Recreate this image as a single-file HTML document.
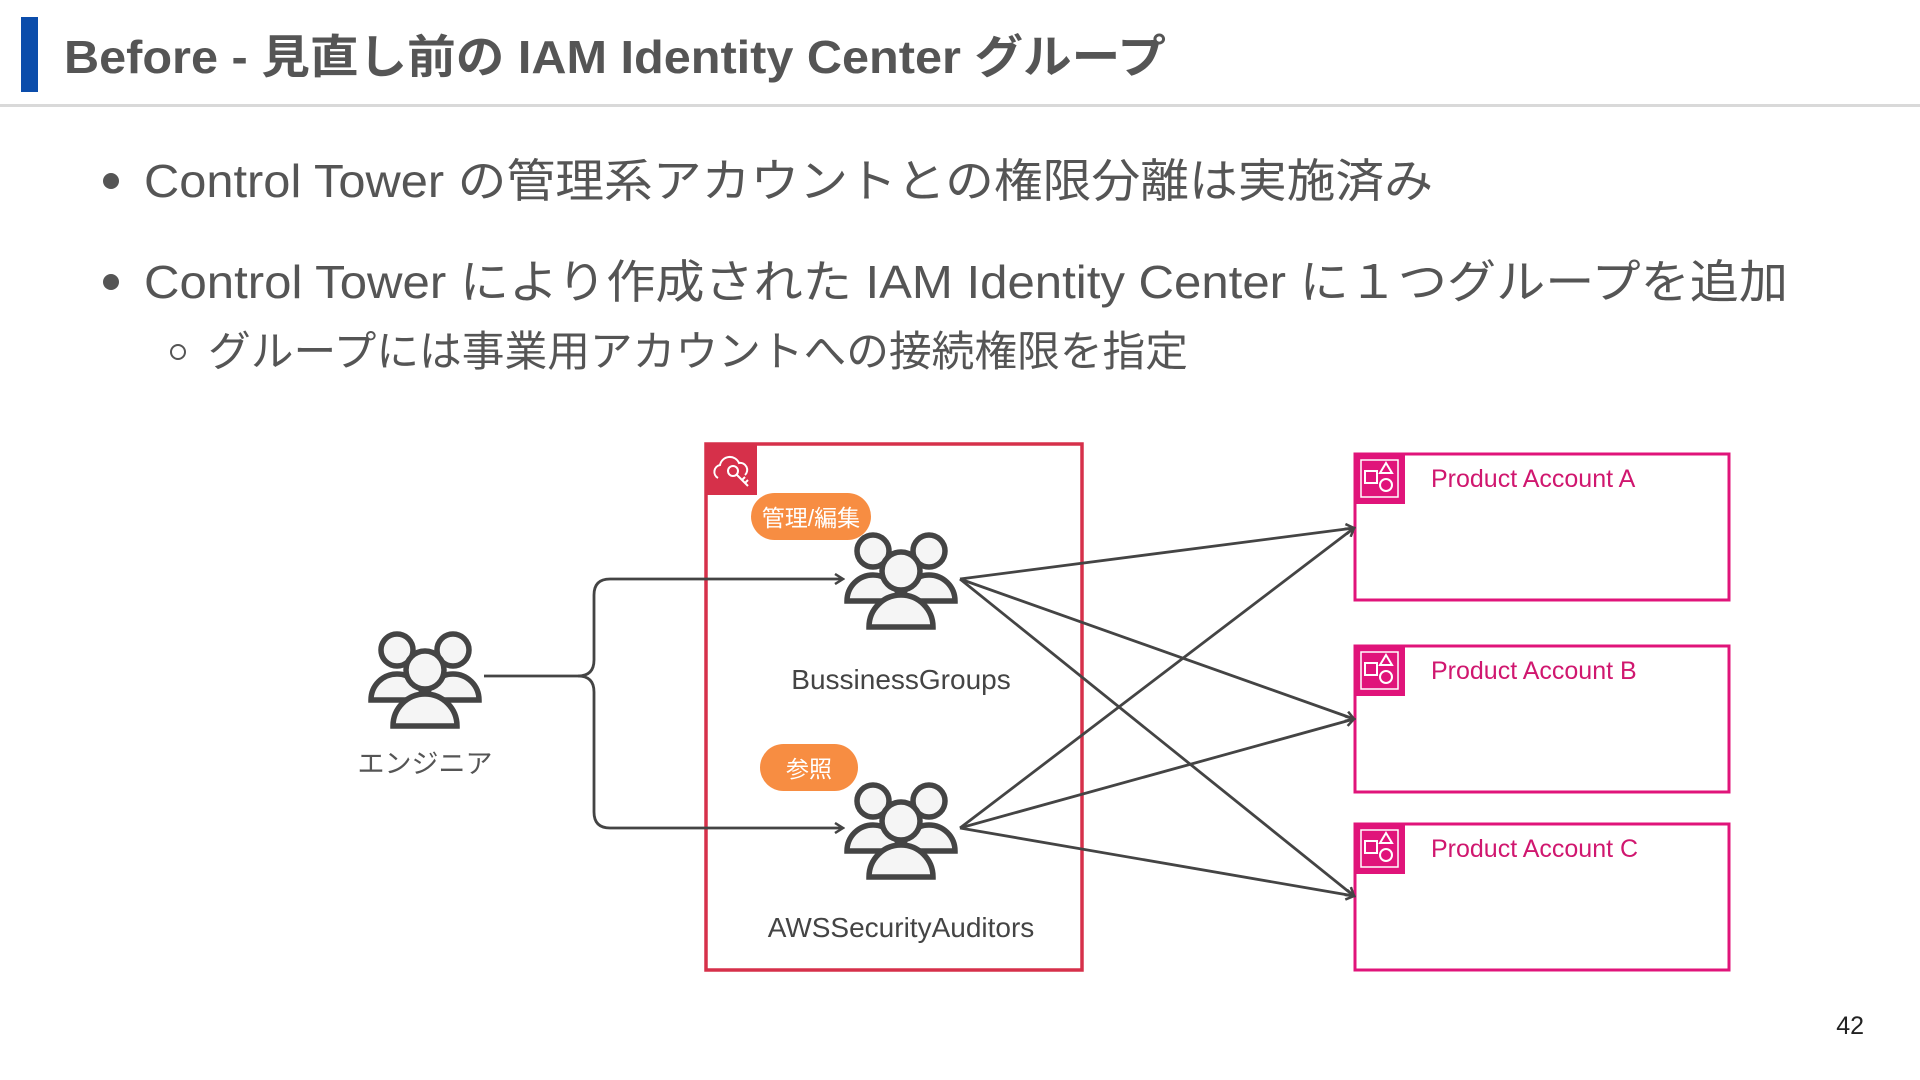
<!DOCTYPE html>
<html><head><meta charset="utf-8"><style>
html,body{margin:0;padding:0;background:#fff;}
svg{display:block;font-family:"Liberation Sans","Noto Sans CJK JP",sans-serif;}
</style></head><body>
<svg width="1920" height="1080" viewBox="0 0 1920 1080" xmlns="http://www.w3.org/2000/svg">
<defs>
<g id="ppl" stroke="#444" stroke-width="5.5" fill="#f5f5f5">
  <path d="M4 72 A26 26 0 0 1 56 72 Z"/>
  <path d="M60 72 A26 26 0 0 1 112 72 Z"/>
  <circle cx="30" cy="22" r="16"/>
  <circle cx="86" cy="22" r="16"/>
  <path d="M26 98 A32 32 0 0 1 90 98 Z"/>
  <circle cx="58" cy="42" r="19"/>
</g>
<marker id="ar" markerWidth="12" markerHeight="12" refX="10" refY="6" orient="auto" markerUnits="userSpaceOnUse">
  <path d="M2 1 L10 6 L2 11" fill="none" stroke="#444" stroke-width="2.5"/>
</marker>
<g id="acct">
  <rect x="0" y="0" width="51" height="51" fill="#e0147a"/>
  <rect x="11" y="18" width="12" height="12" fill="none" stroke="#fff" stroke-width="2"/>
  <path d="M32 10 L38 20 L26 20 Z" fill="none" stroke="#fff" stroke-width="2"/>
  <circle cx="32" cy="32" r="6" fill="none" stroke="#fff" stroke-width="2"/>
  <rect x="7" y="7" width="37" height="37" fill="none" stroke="#fff" stroke-width="1.5"/>
</g>
</defs>
<!-- header -->
<rect x="21" y="17" width="17" height="75" fill="#0b4dab"/>
<text x="64" y="73" font-size="46" font-weight="bold" fill="#555" textLength="1102" lengthAdjust="spacingAndGlyphs">Before - 見直し前の IAM Identity Center グループ</text>
<rect x="0" y="104" width="1920" height="3" fill="#d9d9d9"/>
<!-- bullets -->
<circle cx="111" cy="181" r="8" fill="#555"/>
<text x="144" y="197" font-size="46" fill="#555" textLength="1289" lengthAdjust="spacingAndGlyphs">Control Tower の管理系アカウントとの権限分離は実施済み</text>
<circle cx="111" cy="282" r="8" fill="#555"/>
<text x="144" y="298" font-size="46" fill="#555" textLength="1644" lengthAdjust="spacingAndGlyphs">Control Tower により作成された IAM Identity Center に１つグループを追加</text>
<circle cx="178" cy="352" r="7" fill="none" stroke="#555" stroke-width="2"/>
<text x="208" y="366" font-size="42" fill="#555" textLength="980" lengthAdjust="spacingAndGlyphs">グループには事業用アカウントへの接続権限を指定</text>
<!-- red box -->
<rect x="706" y="444" width="376" height="526" fill="none" stroke="#d6304a" stroke-width="3.5"/>
<rect x="705" y="443" width="52" height="52" fill="#d6304a"/>
<g fill="none" stroke="#fff" stroke-width="2">
  <path d="M718 478 a7 7 0 0 1 2 -13 a10 10 0 0 1 19 -2 a7 7 0 0 1 6 12"/>
  <circle cx="733" cy="471" r="5"/>
  <path d="M737 475 L748 486 M742 480 L745 477 M745 483 L748 480"/>
</g>
<!-- accounts -->
<g fill="none" stroke="#e0147a" stroke-width="3">
<rect x="1355" y="454" width="374" height="146"/>
<rect x="1355" y="646" width="374" height="146"/>
<rect x="1355" y="824" width="374" height="146"/>
</g>
<use href="#acct" x="1354" y="453"/>
<use href="#acct" x="1354" y="645"/>
<use href="#acct" x="1354" y="823"/>
<g font-size="25" fill="#d0176f">
<text x="1431" y="487">Product Account A</text>
<text x="1431" y="679">Product Account B</text>
<text x="1431" y="857">Product Account C</text>
</g>
<!-- connectors -->
<g fill="none" stroke="#444" stroke-width="2.8">
<path d="M484 676 H578 Q594 676 594 660 V595 Q594 579 610 579 H843" marker-end="url(#ar)"/>
<path d="M578 676 Q594 676 594 692 V812 Q594 828 610 828 H843" marker-end="url(#ar)"/>
<path d="M960 579 L1354 528" marker-end="url(#ar)"/>
<path d="M960 579 L1354 719" marker-end="url(#ar)"/>
<path d="M960 579 L1354 896" marker-end="url(#ar)"/>
<path d="M960 828 L1354 528" marker-end="url(#ar)"/>
<path d="M960 828 L1354 719" marker-end="url(#ar)"/>
<path d="M960 828 L1354 896" marker-end="url(#ar)"/>
</g>
<!-- people -->
<use href="#ppl" x="367" y="628"/>
<use href="#ppl" x="843" y="529"/>
<use href="#ppl" x="843" y="779"/>
<text x="425" y="773" font-size="27" fill="#555" text-anchor="middle">エンジニア</text>
<text x="901" y="689" font-size="28" fill="#444" text-anchor="middle">BussinessGroups</text>
<text x="901" y="937" font-size="28" fill="#444" text-anchor="middle">AWSSecurityAuditors</text>
<!-- tags -->
<rect x="751" y="493" width="120" height="47" rx="23.5" fill="#f78d42"/>
<text x="811" y="526" font-size="23" fill="#fff" text-anchor="middle">管理/編集</text>
<rect x="760" y="744" width="98" height="47" rx="23.5" fill="#f78d42"/>
<text x="809" y="777" font-size="23" fill="#fff" text-anchor="middle">参照</text>
<text x="1864" y="1034" font-size="25" fill="#222" text-anchor="end">42</text>
</svg>
</body></html>
